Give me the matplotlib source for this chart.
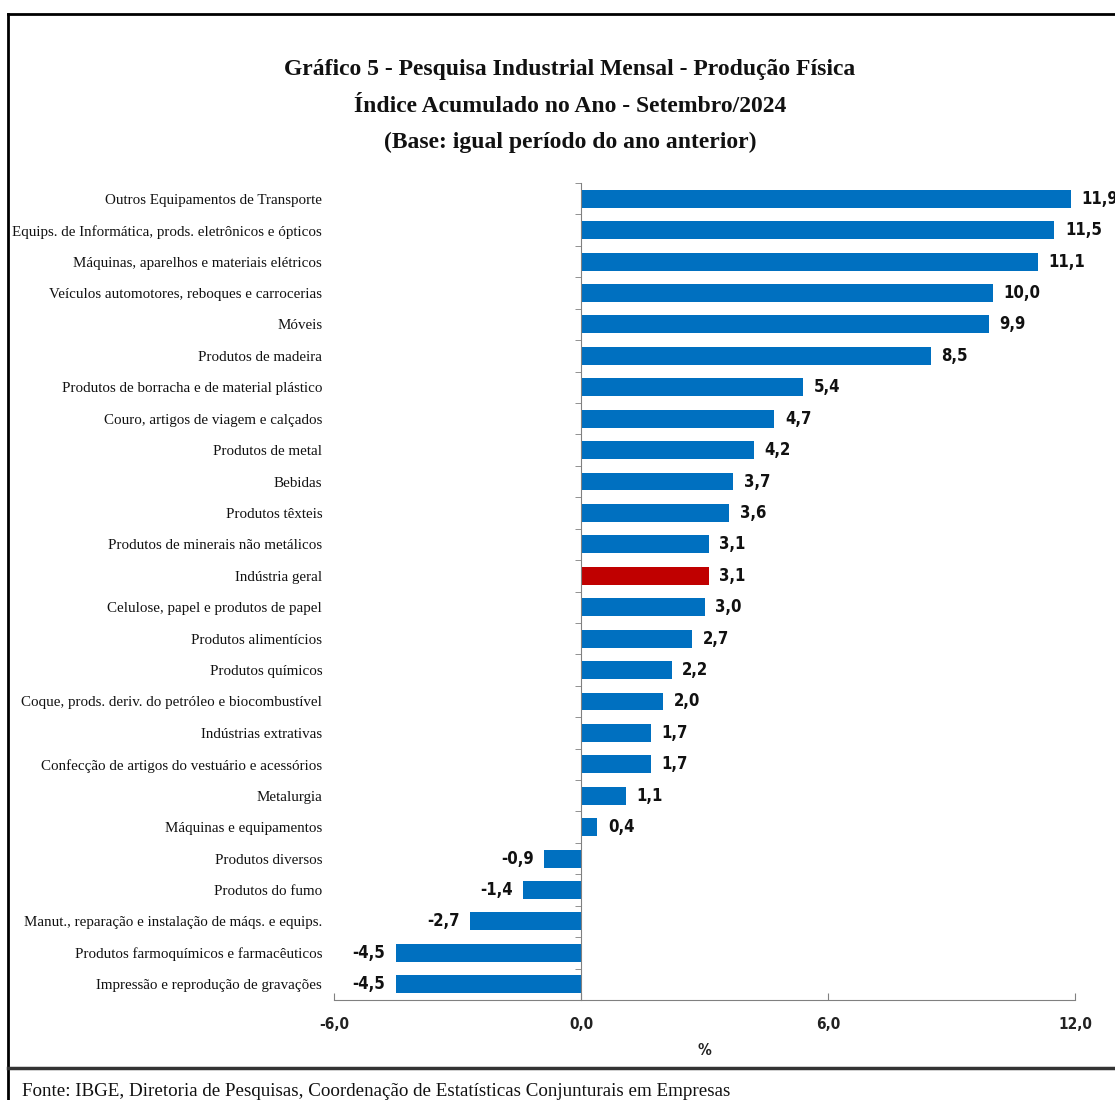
import os
import matplotlib
matplotlib.use("Agg")
import matplotlib.pyplot as plt
from matplotlib.lines import Line2D
from matplotlib import font_manager as fm
import matplotlib.transforms as mtransforms

categories = [
    "Outros Equipamentos de Transporte",
    "Equips. de Informática, prods. eletrônicos e ópticos",
    "Máquinas, aparelhos e materiais elétricos",
    "Veículos automotores, reboques e carrocerias",
    "Móveis",
    "Produtos de madeira",
    "Produtos de borracha e de material plástico",
    "Couro, artigos de viagem e calçados",
    "Produtos de metal",
    "Bebidas",
    "Produtos têxteis",
    "Produtos de minerais não metálicos",
    "Indústria geral",
    "Celulose, papel e produtos de papel",
    "Produtos alimentícios",
    "Produtos químicos",
    "Coque, prods. deriv. do petróleo e biocombustível",
    "Indústrias extrativas",
    "Confecção de artigos do vestuário e acessórios",
    "Metalurgia",
    "Máquinas e equipamentos",
    "Produtos diversos",
    "Produtos do fumo",
    "Manut., reparação e instalação de máqs. e equips.",
    "Produtos farmoquímicos e farmacêuticos",
    "Impressão e reprodução de gravações",
]
values = [11.9, 11.5, 11.1, 10.0, 9.9, 8.5, 5.4, 4.7, 4.2, 3.7, 3.6, 3.1, 3.1,
          3.0, 2.7, 2.2, 2.0, 1.7, 1.7, 1.1, 0.4, -0.9, -1.4, -2.7, -4.5, -4.5]
highlight = "Indústria geral"
xticks = [-6.0, 0.0, 6.0, 12.0]

title_lines = [
    "Gráfico 5 - Pesquisa Industrial Mensal - Produção Física",
    "Índice Acumulado no Ano - Setembro/2024",
    "(Base: igual período do ano anterior)",
]
source = "Fonte: IBGE, Diretoria de Pesquisas, Coordenação de Estatísticas Conjunturais em Empresas"

BLUE = "#0070C0"
RED = "#C00000"

_files = fm.findSystemFonts()


def fp(fname, size, fallback_family, weight="normal"):
    for f in _files:
        if os.path.basename(f) == fname:
            return fm.FontProperties(fname=f, size=size)
    return fm.FontProperties(family=fallback_family, size=size, weight=weight)


fp_label = fm.FontProperties(family=["Liberation Serif", "DejaVu Serif"], size=10.8)
fp_title = fm.FontProperties(family=["Liberation Serif", "DejaVu Serif"], size=17, weight="bold")
fp_source = fm.FontProperties(family=["Liberation Serif", "DejaVu Serif"], size=13.7)
fp_value = fp("DejaVuSansCondensed-Bold.ttf", 12, "DejaVu Sans", "bold")
fp_tick = fp("DejaVuSansCondensed-Bold.ttf", 11, "DejaVu Sans", "bold")

fig = plt.figure(figsize=(11.15, 11.0), dpi=100)
ax = fig.add_axes([334 / 1115, 1 - 1000 / 1100, (1075 - 334) / 1115, (1000 - 183) / 1100])

n = len(categories)
ypos = list(range(n))
colors = [RED if c == highlight else BLUE for c in categories]
ax.barh(ypos, values, height=0.57, color=colors, zorder=2)
ax.set_ylim(n - 0.5, -0.5)
ax.set_xlim(-6, 12)

for s in ["top", "right"]:
    ax.spines[s].set_visible(False)
ax.spines["left"].set_position(("data", 0))
ax.spines["left"].set_color("#808080")
ax.spines["bottom"].set_color("#808080")

ax.set_xticks(xticks)
ax.set_xticklabels([f"{t:.1f}".replace(".", ",") for t in xticks], color="#222222")
for lab in ax.get_xticklabels():
    lab.set_fontproperties(fp_tick)
ax.tick_params(axis="x", direction="in", length=5, color="#808080", pad=12)
ax.set_yticks([])
ax.set_yticks([i + 0.5 for i in range(-1, n)], minor=True)
ax.tick_params(axis="y", which="minor", direction="out", length=4, color="#808080")
ax.set_xlabel("%", fontproperties=fp_tick, color="#222222", labelpad=8)

trans = mtransforms.blended_transform_factory(ax.transAxes, ax.transData)
shift = mtransforms.ScaledTranslation(0, -1.5 / 100, fig.dpi_scale_trans)
for y, c in zip(ypos, categories):
    ax.text(-0.016, y, c, transform=trans + shift, ha="right", va="center",
            fontproperties=fp_label, color="#111111")

for y, v in zip(ypos, values):
    lab = f"{v:.1f}".replace(".", ",")
    if v >= 0:
        ax.annotate(lab, (v, y), xytext=(7.5, 0), textcoords="offset points",
                    ha="left", va="center", fontproperties=fp_value, color="#111111")
    else:
        ax.annotate(lab, (v, y), xytext=(-7.5, 0), textcoords="offset points",
                    ha="right", va="center", fontproperties=fp_value, color="#111111")

for t, yp in zip(title_lines, [69, 107, 142]):
    fig.text(570 / 1115, 1 - yp / 1100, t, ha="center", va="center",
             fontproperties=fp_title, color="#111111")

fig.add_artist(Line2D([8 / 1115, 8 / 1115], [0, 1 - 14 / 1100], transform=fig.transFigure,
                      color="black", lw=2))
fig.add_artist(Line2D([8 / 1115, 1], [1 - 14 / 1100, 1 - 14 / 1100], transform=fig.transFigure,
                      color="black", lw=2))
fig.add_artist(Line2D([8 / 1115, 1], [1 - 1068 / 1100, 1 - 1068 / 1100], transform=fig.transFigure,
                      color="#333333", lw=2.5))
fig.text(22 / 1115, 1 - 1091 / 1100, source, ha="left", va="center",
         fontproperties=fp_source, color="#111111")

fig.savefig("out.png", dpi=100)
